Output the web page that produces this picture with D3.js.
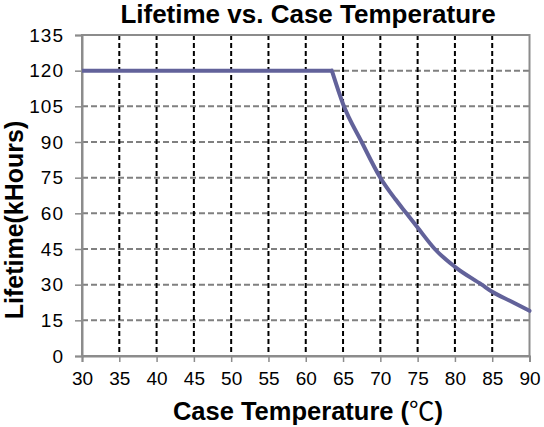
<!DOCTYPE html>
<html lang="en">
<head>
<meta charset="UTF-8"/>
<title>Lifetime vs. Case Temperature</title>
<script src="https://d3js.org/d3.v7.min.js"></script>
<style>
  body { margin: 0; background: #fff; }
  text { font-family: "Liberation Sans", Arial, sans-serif; }
</style>
</head>
<body>
<script>
    // values
    var temps    = [30, 63.5, 65, 67.5, 70, 72, 73.5, 75, 77.3, 80, 83.6, 85, 87.5, 90];
    var lifetime = [120, 120, 106, 90, 75, 66, 60, 54, 45, 37.5, 30, 27, 23, 19];
    var xTicks = [30, 35, 40, 45, 50, 55, 60, 65, 70, 75, 80, 85, 90];
    var yTicks = [0, 15, 30, 45, 60, 75, 90, 105, 120, 135];

    var W = 544, H = 427;
    var margin = { top: 35, right: 14.5, bottom: 71, left: 82 };
    var w = W - margin.left - margin.right;
    var h = H - margin.top - margin.bottom;

    var xScale = d3.scaleLinear().domain([30, 90]).range([0, w]);
    var yScale = d3.scaleLinear().domain([0, 135]).range([h, 0]);

    var svg = d3.select("body")
                .append("svg")
                .attr("width", W)
                .attr("height", H);

    var g = svg.append("g")
               .attr("transform", "translate(" + margin.left + "," + margin.top + ")");

    // horizontal grid (grey dashes)
    g.selectAll(".hgrid")
     .data(yTicks.filter(function(d) { return d > 0 && d < 135; }))
     .enter()
     .append("line")
     .attr("x1", 0).attr("x2", w)
     .attr("y1", function(d) { return yScale(d); })
     .attr("y2", function(d) { return yScale(d); })
     .attr("stroke", "#808080")
     .attr("stroke-width", 2)
     .attr("stroke-dasharray", "6,3");

    // vertical grid (black dashes)
    g.selectAll(".vgrid")
     .data(xTicks.filter(function(d) { return d > 30 && d < 90; }))
     .enter()
     .append("line")
     .attr("x1", function(d) { return xScale(d); })
     .attr("x2", function(d) { return xScale(d); })
     .attr("y1", 0).attr("y2", h)
     .attr("stroke", "#000")
     .attr("stroke-width", 2)
     .attr("stroke-dasharray", "5,3");

    // plot frame
    g.append("rect")
     .attr("x", 0).attr("y", 0)
     .attr("width", w).attr("height", h)
     .attr("fill", "none")
     .attr("stroke", "#8c8c8c")
     .attr("stroke-width", 2);

    var xAxis = d3.axisBottom(xScale).tickValues(xTicks).tickSize(6).tickPadding(10);
    var yAxis = d3.axisLeft(yScale).tickValues(yTicks).tickSize(7).tickPadding(11);

    var gx = g.append("g")
              .attr("transform", "translate(0," + h + ")")
              .call(xAxis);
    var gy = g.append("g").call(yAxis);

    [gx, gy].forEach(function(a) {
        a.select(".domain").attr("stroke", "#8c8c8c").attr("stroke-width", 2);
        a.selectAll(".tick line").attr("stroke", "#8c8c8c").attr("stroke-width", 1.5);
        a.selectAll(".tick text")
         .attr("fill", "#000")
         .style("font-family", "'Liberation Sans', Arial, sans-serif")
         .style("font-size", "19px");
    });
    gy.selectAll(".tick text").style("letter-spacing", "1px");

    // lifetime curve: flat part straight, decay part smoothed
    var pts = temps.map(function(t, i) { return [t, lifetime[i]]; });
    var flat = d3.line()
                 .x(function(d) { return xScale(d[0]); })
                 .y(function(d) { return yScale(d[1]); });
    var decay = d3.line()
                  .x(function(d) { return xScale(d[0]); })
                  .y(function(d) { return yScale(d[1]); })
                  .curve(d3.curveMonotoneX);

    g.append("path")
     .datum(pts.slice(0, 2))
     .attr("d", flat)
     .attr("fill", "none")
     .attr("stroke", "#62629a")
     .attr("stroke-width", 4);

    g.append("path")
     .datum(pts.slice(1))
     .attr("d", decay)
     .attr("fill", "none")
     .attr("stroke", "#62629a")
     .attr("stroke-width", 4)
     .attr("stroke-linecap", "round");

    // titles
    svg.append("text")
       .attr("x", 308).attr("y", 23)
       .attr("text-anchor", "middle")
       .style("font-weight", "bold")
       .style("font-size", "26px")
       .text("Lifetime vs. Case Temperature");

    var xt = svg.append("text")
       .attr("x", 308).attr("y", 420)
       .attr("text-anchor", "middle")
       .style("font-weight", "bold")
       .style("font-size", "25.5px");
    xt.append("tspan").text("Case Temperature (");
    xt.append("tspan")
      .style("font-weight", "normal")
      .style("font-family", "'Noto Sans CJK SC', sans-serif")
      .text("℃");
    xt.append("tspan").text(")");

    svg.append("text")
       .attr("transform", "translate(23,220) rotate(-90)")
       .attr("text-anchor", "middle")
       .style("font-weight", "bold")
       .style("font-size", "25px")
       .text("Lifetime(kHours)");
</script>
</body>
</html>
